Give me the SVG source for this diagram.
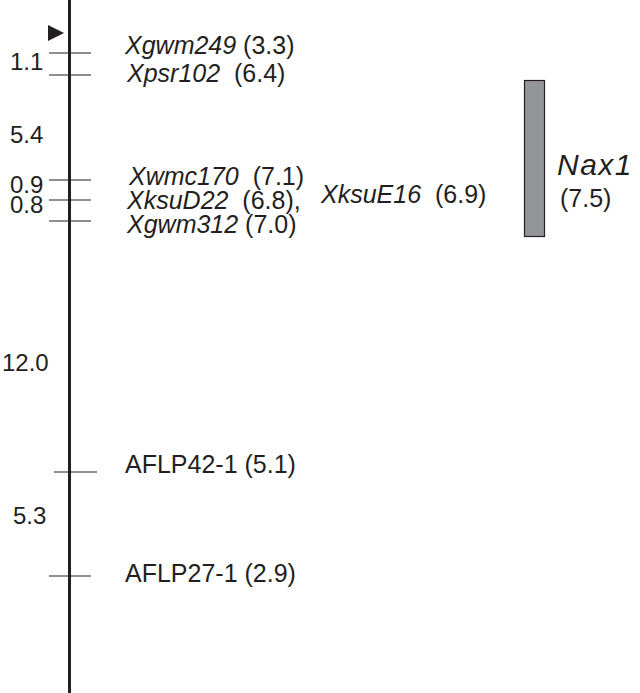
<svg xmlns="http://www.w3.org/2000/svg" width="640" height="693" viewBox="0 0 640 693">
<style>
text{font-family:"Liberation Sans",Arial,sans-serif;font-size:25px;fill:#231f20}
.d{font-size:24px}
.it{font-style:italic}
.tick{stroke:#231f20;stroke-width:1.2}
.chrom{stroke:#231f20;stroke-width:3}
</style>
<rect width="640" height="693" fill="#fff"/>
<g id="chromosome">
<line class="chrom" x1="69.5" y1="0" x2="69.5" y2="693"/>
<polygon points="48,25 64,33 48,41" fill="#231f20"/>
</g>
<g id="connectors">
<line class="tick" x1="49" y1="53" x2="91" y2="53"/>
<line class="tick" x1="49" y1="75" x2="91" y2="75"/>
<line class="tick" x1="49" y1="180" x2="91" y2="180"/>
<line class="tick" x1="49" y1="200" x2="91" y2="200"/>
<line class="tick" x1="49" y1="221" x2="91" y2="221"/>
<line class="tick" x1="54" y1="472" x2="97" y2="472"/>
<line class="tick" x1="49" y1="576" x2="91" y2="576"/>
</g>
<g id="distances">
<text class="d" x="10" y="70">1.1</text>
<text class="d" x="10" y="143">5.4</text>
<text class="d" x="10" y="193">0.9</text>
<text class="d" x="10" y="213">0.8</text>
<text class="d" x="2" y="371">12.0</text>
<text class="d" x="13" y="524">5.3</text>
</g>
<g id="Xgwm249"><text x="125" y="54"><tspan class="it">Xgwm249</tspan> (3.3)</text></g>
<g id="Xpsr102"><text x="127" y="82" xml:space="preserve"><tspan class="it">Xpsr102</tspan>  (6.4)</text></g>
<g id="Xwmc170"><text x="129" y="185" xml:space="preserve"><tspan class="it">Xwmc170</tspan>  (7.1)</text></g>
<g id="XksuD22"><text x="127" y="209" xml:space="preserve"><tspan class="it">XksuD22</tspan>  (6.8),</text></g>
<g id="Xgwm312"><text x="127" y="233"><tspan class="it">Xgwm312</tspan> (7.0)</text></g>
<g id="XksuE16"><text x="321" y="203" xml:space="preserve"><tspan class="it">XksuE16</tspan>  (6.9)</text></g>
<g id="AFLP42-1"><text x="125" y="473">AFLP42-1 (5.1)</text></g>
<g id="AFLP27-1"><text x="125" y="582">AFLP27-1 (2.9)</text></g>
<g id="Nax1">
<rect x="524.5" y="80.5" width="20" height="156" fill="#939598" stroke="#231f20" stroke-width="1.2"/>
<text x="557" y="175" class="it" style="font-size:30px;letter-spacing:1.5px">Nax1</text>
<text x="560" y="207">(7.5)</text>
</g>
</svg>
